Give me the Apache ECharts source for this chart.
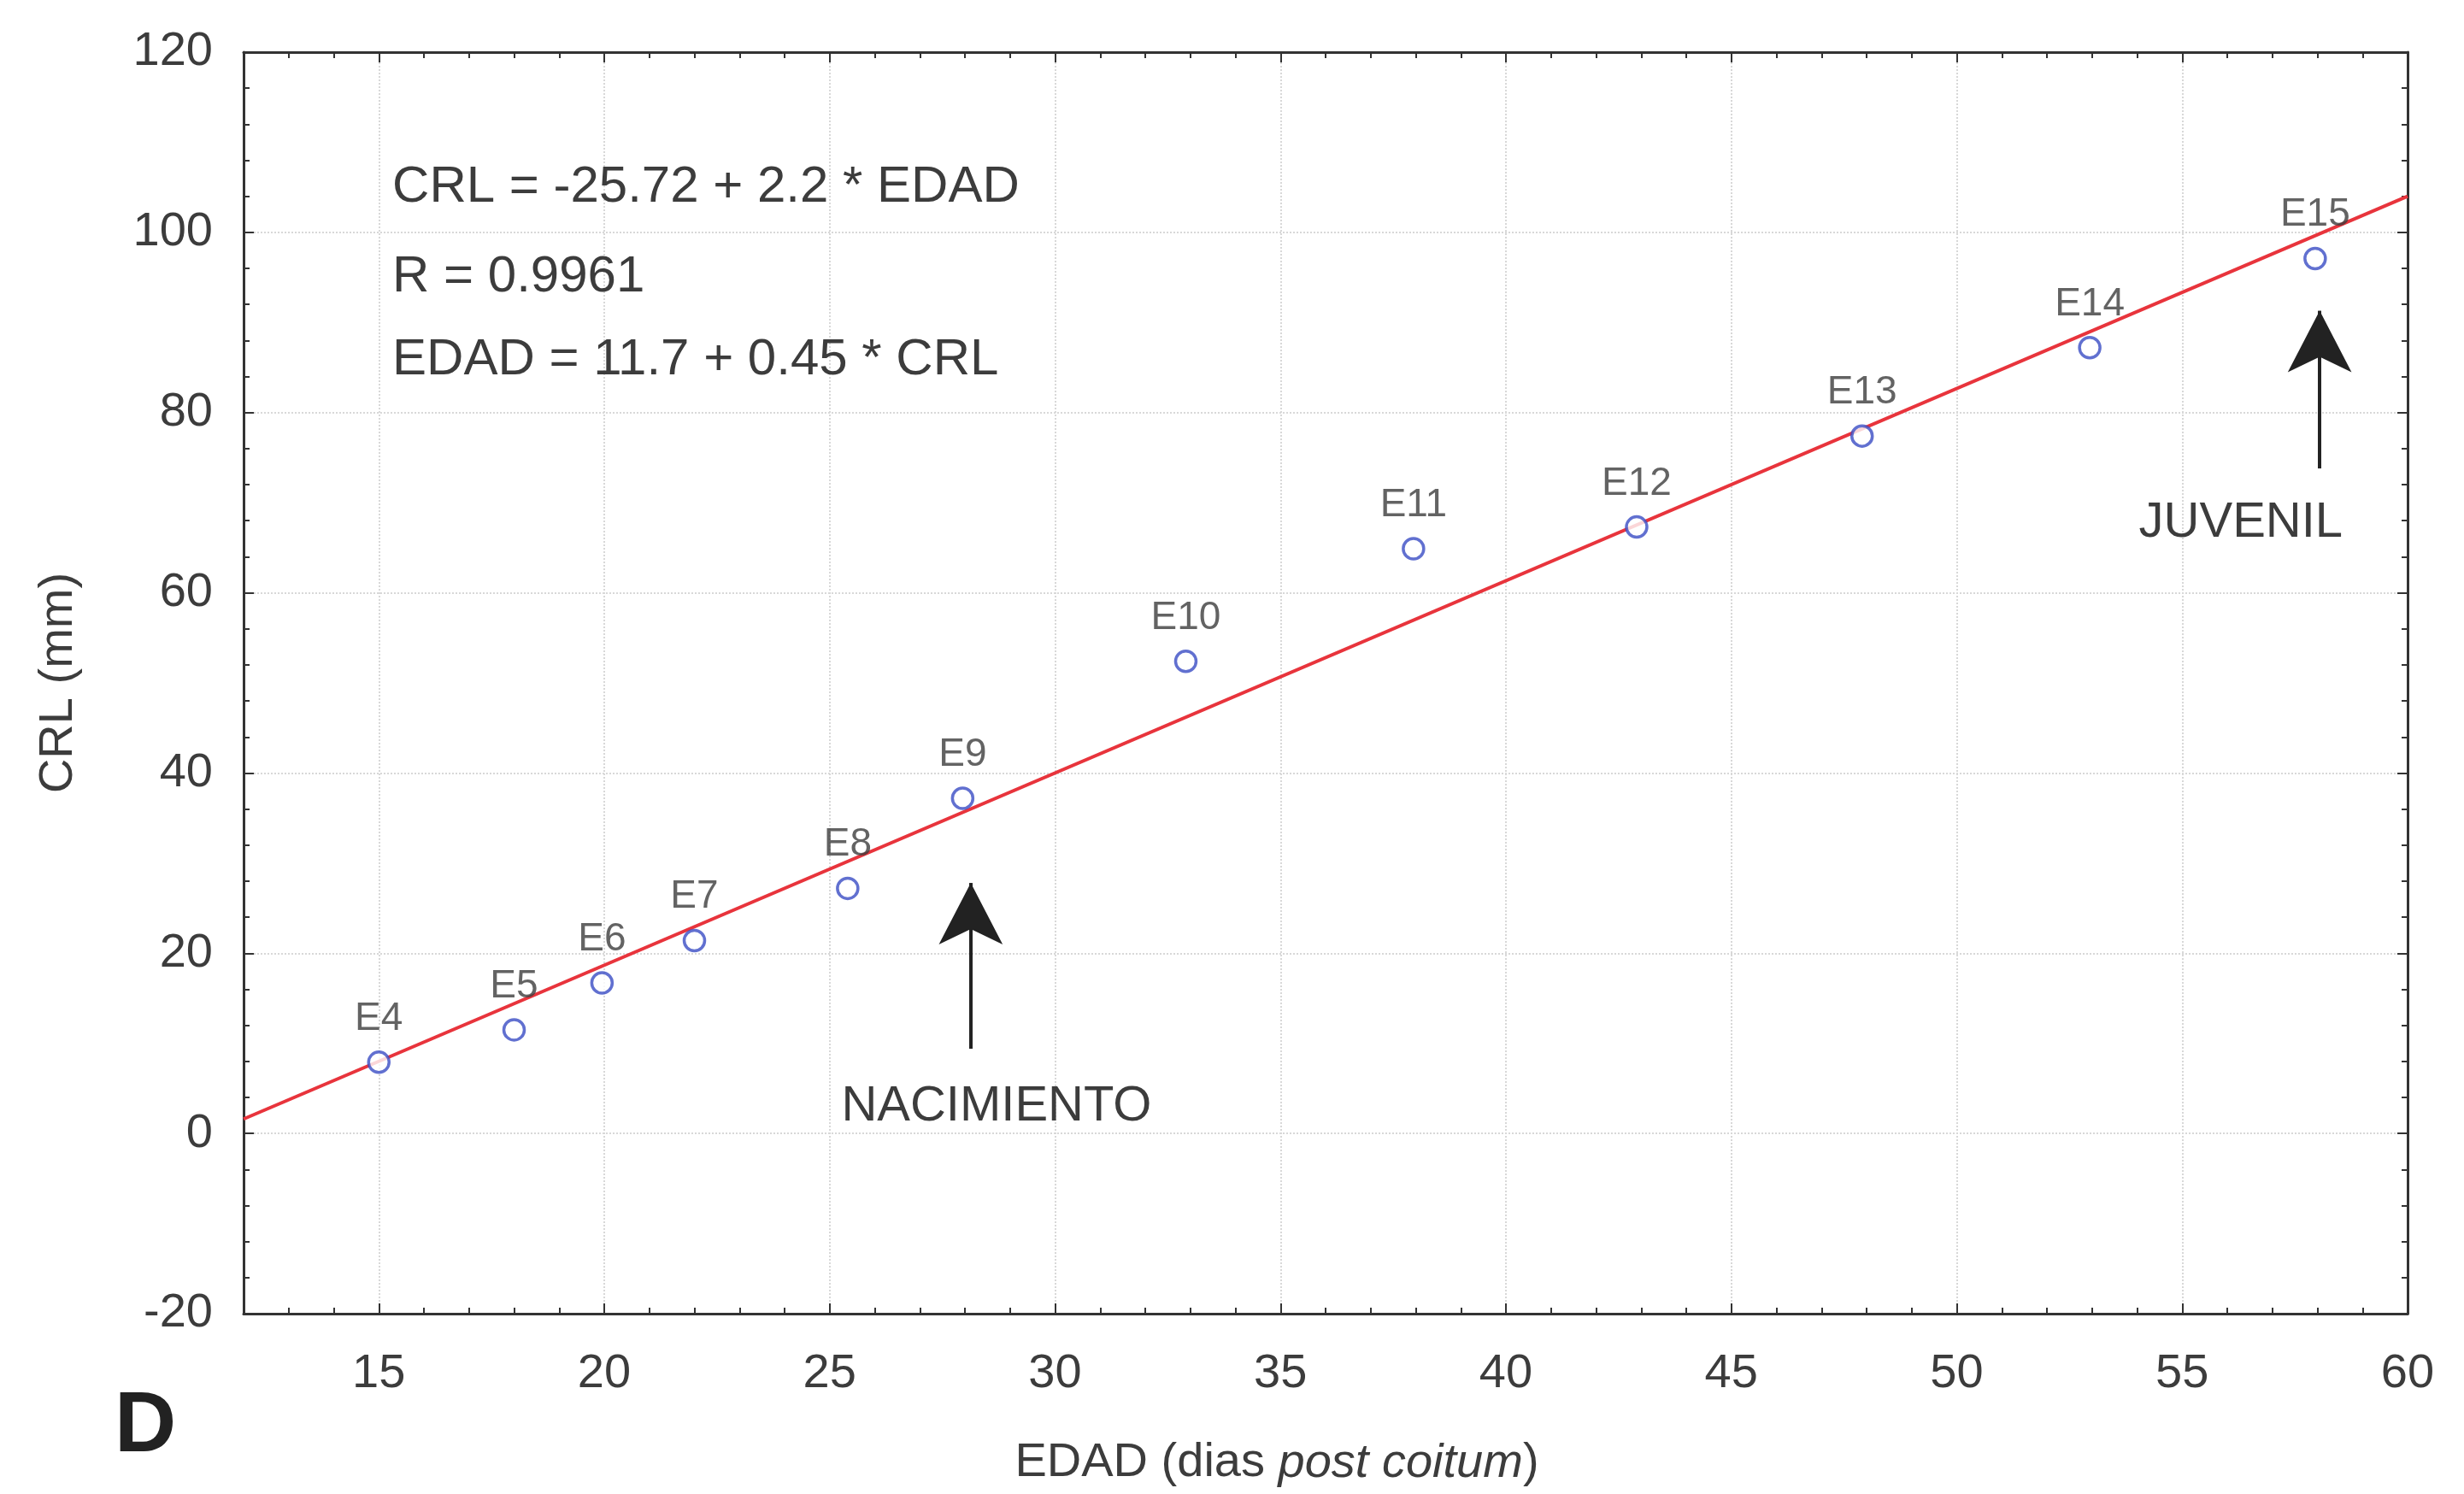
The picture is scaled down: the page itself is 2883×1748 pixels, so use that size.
<!DOCTYPE html>
<html lang="es">
<head>
<meta charset="UTF-8">
<title>CRL - EDAD</title>
<script src="https://cdn.jsdelivr.net/npm/echarts@6/dist/echarts.min.js"></script>
<style>
    html, body { margin: 0; padding: 0; background: #fff; }
    #chart { width: 2883px; height: 1748px; }
</style>
</head>
<body>
<div id="chart"></div>
<script>
    // datos
    var etapas = ['E4','E5','E6','E7','E8','E9','E10','E11','E12','E13','E14','E15'];
    var edad = [15, 18, 19.95, 22, 25.4, 27.95, 32.9, 37.95, 42.9, 47.9, 52.95, 57.95];
    var crl = [7.9, 11.5, 16.7, 21.4, 27.2, 37.2, 52.4, 64.9, 67.3, 77.4, 87.2, 97.1];
    var recta = [[12, 1.6], [60, 104.0]];
    var flechas = [[28.13, 9.4, 27.8], [58.05, 73.8, 91.3]];   // x, cola, punta
    var textos = [
        {name: 'CRL = -25.72 + 2.2 * EDAD', coord: [15.3, 105], align: 'left'},
        {name: 'R = 0.9961', coord: [15.3, 95.0], align: 'left'},
        {name: 'EDAD = 11.7 + 0.45 * CRL', coord: [15.3, 85.8], align: 'left'},
        {name: 'NACIMIENTO', coord: [28.7, 3.0], align: 'center'},
        {name: 'JUVENIL', coord: [56.3, 67.7], align: 'center'}
    ];

    var fuente = 'Liberation Sans, Arial, sans-serif';
    var gris = '#3c3c3c';
    var puntos = [];
    for (var i = 0; i < etapas.length; i++) {
        puntos.push({name: etapas[i], value: [edad[i], crl[i]]});
    }
    var lineasFlecha = flechas.map(function (f) {
        return [{coord: [f[0], f[1]]}, {coord: [f[0], f[2]], symbolSize: [56, 72]}];
    });
    var marcasTexto = textos.map(function (t) {
        return {name: t.name, coord: t.coord, label: {align: t.align, fontSize: t.align === 'left' ? 60 : 58}};
    });

    function ejeX(pos) {
        return {
            type: 'value', min: 12, max: 60, splitNumber: 10, position: pos,
            axisLine: {show: true, onZero: false, lineStyle: {color: '#333', width: 3}},
            axisTick: {show: true, inside: true, length: 12, lineStyle: {color: '#333', width: 2}},
            minorTick: {show: true, splitNumber: 5, length: 7, lineStyle: {color: '#333', width: 2}},
            axisLabel: {show: pos === 'bottom', showMinLabel: false, margin: 43,
                fontSize: 56, color: gris, fontFamily: fuente},
            splitLine: {show: pos === 'bottom', lineStyle: {color: '#d8d8d8', type: 'dotted', width: 2}}
        };
    }
    function ejeY(pos) {
        return {
            type: 'value', min: -20, max: 120, interval: 20, position: pos,
            axisLine: {show: true, onZero: false, lineStyle: {color: '#333', width: 3}},
            axisTick: {show: true, inside: true, length: 12, lineStyle: {color: '#333', width: 2}},
            minorTick: {show: true, splitNumber: 5, length: 7, lineStyle: {color: '#333', width: 2}},
            axisLabel: {show: pos === 'left', margin: 36, fontSize: 56, color: gris, fontFamily: fuente},
            splitLine: {show: pos === 'left', lineStyle: {color: '#d8d8d8', type: 'dotted', width: 2}}
        };
    }

    var xInf = ejeX('bottom');
    xInf.name = '{n|EDAD (dias }{i|post coitum}{n|)}';
    xInf.nameLocation = 'middle';
    xInf.nameGap = 147;
    xInf.nameTextStyle = {
        padding: [0, 114, 0, 0],
        rich: {
            n: {fontSize: 56, color: gris, fontFamily: fuente},
            i: {fontSize: 56, color: gris, fontFamily: fuente, fontStyle: 'italic'}
        }
    };
    var yIzq = ejeY('left');
    yIzq.name = 'CRL (mm)';
    yIzq.nameLocation = 'middle';
    yIzq.nameGap = 188;
    yIzq.nameTextStyle = {fontSize: 56, color: gris, fontFamily: fuente};

    var chart = echarts.init(document.getElementById('chart'));
    chart.setOption({
        backgroundColor: '#fff',
        animation: false,
        grid: {left: 285, right: 66, top: 61, bottom: 211},
        xAxis: [xInf, ejeX('top')],
        yAxis: [yIzq, ejeY('right')],
        graphic: [{
            type: 'text', x: 134, y: 1670,
            style: {text: 'D', font: 'bold 100px ' + fuente, fill: '#222', verticalAlign: 'middle'}
        }],
        series: [
            {
                type: 'line', data: recta, showSymbol: false, silent: true, z: 2,
                lineStyle: {color: '#e8343c', width: 4},
                markLine: {
                    silent: true, symbol: ['none', 'arrow'],
                    lineStyle: {color: '#222', width: 4, type: 'solid'},
                    label: {show: false},
                    data: lineasFlecha
                },
                markPoint: {
                    symbol: 'circle', symbolSize: 1, silent: true,
                    itemStyle: {color: 'rgba(0,0,0,0)'},
                    label: {show: true, position: 'inside', formatter: '{b}',
                        fontSize: 58, color: gris, fontFamily: fuente, verticalAlign: 'middle'},
                    data: marcasTexto
                }
            },
            {
                type: 'scatter', data: puntos, z: 3,
                symbol: 'circle', symbolSize: 24,
                itemStyle: {color: '#fff', borderColor: '#3a4cc4', borderWidth: 3.5},
                label: {show: true, position: 'top', distance: 14, formatter: '{b}',
                    fontSize: 46, color: gris, fontFamily: fuente}
            }
        ]
    });
</script>
</body>
</html>
